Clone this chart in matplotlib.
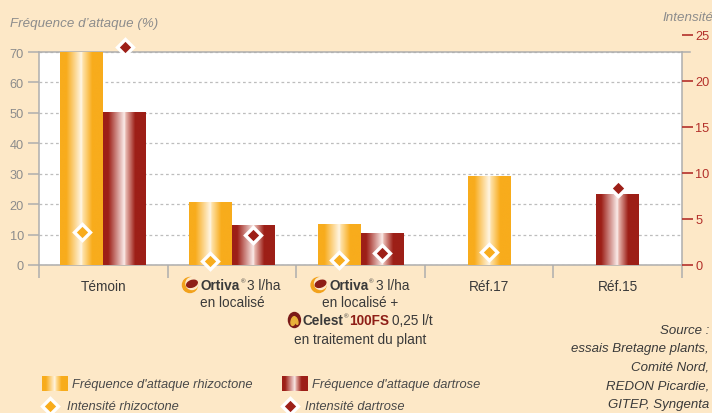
import matplotlib
matplotlib.use("Agg")
import matplotlib.pyplot as plt
import numpy as np
from matplotlib.colors import LinearSegmentedColormap
from matplotlib.patches import Circle, Ellipse
from matplotlib.lines import Line2D
from matplotlib.transforms import IdentityTransform

plt.rcParams['font.family'] = ['Liberation Sans Narrow', 'Liberation Sans', 'DejaVu Sans']

# --- données ---
categories = ["Témoin", "Ortiva 3 l/ha en localisé",
              "Ortiva 3 l/ha en localisé + Celest 100FS", "Réf.17", "Réf.15"]
freq_rhizo = [70, 20.5, 13.3, 29.2, None]       # % (axe gauche)
freq_dartrose = [50, 13, 10.5, None, 23.3]      # % (axe gauche)
int_rhizo = [3.6, 0.4, 0.5, 1.4, None]          # axe droit
int_dartrose = [23.7, 3.3, 1.3, None, 8.4]      # axe droit
left_ticks = [0, 10, 20, 30, 40, 50, 60, 70]
right_ticks = [0, 5, 10, 15, 20, 25]
source_lines = ["Source :", "essais Bretagne plants,", "Comité Nord,",
                "REDON Picardie,", "GITEP, Syngenta"]

W, H = 712, 414
BG = "#FDE8C7"
ORANGE = "#F8AC1C"
RED = "#9D1F17"
GREY = "#8C8C8C"
AXGREY = "#AEAEAE"
RTICK = "#B3302A"
DARK = "#3A3A3A"
MS, MEW = 8.3, 2.4

cmap_rh = LinearSegmentedColormap.from_list("rh", [
    (0.0, ORANGE), (0.15, ORANGE), (0.50, "#FFF6E6"), (0.53, "#FFE3AA"),
    (0.75, ORANGE), (1.0, ORANGE)])
cmap_da = LinearSegmentedColormap.from_list("da", [
    (0.0, RED), (0.12, RED), (0.50, "#FBEDEA"), (0.53, "#E8B8B0"),
    (0.75, RED), (1.0, RED)])
grad = np.linspace(0, 1, 256).reshape(1, -1)


def fx(x):
    return x / W


def fy(y):
    return 1 - y / H


fig = plt.figure(figsize=(W / 100, H / 100), dpi=100, facecolor=BG)
ax = fig.add_axes([fx(39), fy(266), fx(682) - fx(39), fy(53) - fy(266)])
ax.set_facecolor("white")
# axe droit : plus haut que la zone de tracé (graduation 25 au-dessus)
ax2 = fig.add_axes([fx(39), fy(266), fx(682) - fx(39), fy(36) - fy(266)])
ax2.patch.set_visible(False)

bw = 0.333
xs = np.arange(len(categories))
for i in xs:
    both = freq_rhizo[i] is not None and freq_dartrose[i] is not None
    off = bw / 2 if both else 0
    for vals, ivals, col, cm, sgn in [(freq_rhizo, int_rhizo, ORANGE, cmap_rh, -1),
                                       (freq_dartrose, int_dartrose, RED, cmap_da, 1)]:
        if vals[i] is None:
            continue
        xc = i + sgn * off
        b = ax.bar(xc, vals[i], width=bw, color=col, zorder=2)[0]
        ax.imshow(grad, cmap=cm, aspect="auto", interpolation="bilinear", zorder=3,
                  extent=[b.get_x(), b.get_x() + b.get_width(), 0, b.get_height()])
        ax2.plot([xc], [ivals[i]], "D", ms=MS, mfc=col, mec="white", mew=MEW,
                 clip_on=False, zorder=5)

ax.set_xlim(-0.5, len(categories) - 0.5)
ax.set_ylim(0, 70)
ax2.set_xlim(ax.get_xlim())
ax2.set_ylim(0, 25)

# axe gauche
ax.set_yticks(left_ticks)
ax.tick_params(axis="y", length=7.9, width=1.1, color=AXGREY, labelcolor=GREY,
               labelsize=9.2, pad=3)
ax.yaxis.grid(True, color="#BDBDBD", linestyle=(0, (2.2, 2.2)), linewidth=0.9, zorder=1)
ax.set_axisbelow(True)
for s in ax.spines.values():
    s.set_color(AXGREY)
    s.set_linewidth(1.1)
ax.add_line(Line2D([1, 1 + 8 / 643], [1, 1], transform=ax.transAxes, clip_on=False,
                   color=AXGREY, linewidth=1.1))

# axe x : séparateurs de catégories
ax.set_xticks(xs)
ax.set_xticklabels(["Témoin", "", "", "Réf.17", "Réf.15"])
ax.set_xticks(np.arange(-0.5, len(categories)), minor=True)
ax.tick_params(axis="x", which="major", length=0, pad=10, labelsize=9.8, labelcolor=DARK)
ax.tick_params(axis="x", which="minor", length=9.4, width=1.1, color=AXGREY)

# axe droit
for s in ax2.spines.values():
    s.set_visible(False)
ax2.set_xticks([])
ax2.yaxis.tick_right()
ax2.set_yticks(right_ticks)
ax2.tick_params(axis="y", length=7.9, width=1.2, color=RTICK, labelcolor=RTICK,
                labelsize=9.2, pad=1.5)

# titres des axes
fig.text(fx(10), fy(24), "Fréquence d’attaque (%)", style="italic", color=GREY,
         fontsize=9.6, va="center", ha="left")
fig.text(fx(662), fy(18), "Intensité", style="italic", color=GREY,
         fontsize=9.6, va="center", ha="left")

renderer = fig.canvas.get_renderer()
T = IdentityTransform()


def logo_ortiva(x, y):
    yy = H - y
    fig.add_artist(Circle((x + 7, yy), 7.5, transform=T, color="#F2A21B"))
    fig.add_artist(Circle((x + 9, yy + 1.5), 6, transform=T, color=BG))
    fig.add_artist(Ellipse((x + 9, yy + 1.2), 11, 6.5, angle=20, transform=T, color="#8E1E17"))


def logo_celest(x, y):
    yy = H - y
    fig.add_artist(Ellipse((x + 6.5, yy), 12, 15, transform=T, color="#7A1A18"))
    fig.add_artist(Ellipse((x + 5.5, yy - 1), 4.5, 9, angle=-15, transform=T, color="#E8B13A"))
    fig.add_artist(Ellipse((x + 8.5, yy - 1), 2.5, 7, angle=15, transform=T, color="#E8B13A"))


def piece_line(cx, cy, pieces):
    objs = []
    total = 0
    for p in pieces:
        if p[0] == "logo":
            objs.append(p)
            total += p[2]
            continue
        s, kw, gap, dy = p
        t = fig.text(0, 0, s, transform=T, ha="left", va="center", **kw)
        w = t.get_window_extent(renderer).width
        objs.append((t, w, gap, dy))
        total += w + gap
    x = cx - total / 2
    for o in objs:
        if o[0] == "logo":
            o[1](x, cy)
            x += o[2]
            continue
        t, w, gap, dy = o
        t.set_position((x, H - cy + dy))
        x += w + gap


FS = 9.8
reg = dict(fontsize=FS, color=DARK)
bold = dict(fontsize=FS, color=DARK, fontweight="bold")
sup = dict(fontsize=4.5, color=DARK)
redb = dict(fontsize=FS, color="#8E1E17", fontweight="bold")


def xpix(i):
    return ax.transData.transform((i, 0))[0]


ortiva_line = [("logo", logo_ortiva, 18), ("Ortiva", bold, 0.5, 0),
               ("®", sup, 2, 4), ("3 l/ha", reg, 0, 0)]
piece_line(xpix(1), 286, ortiva_line)
piece_line(xpix(1), 303, [("en localisé", reg, 0, 0)])
piece_line(xpix(2), 286, ortiva_line)
piece_line(xpix(2), 303, [("en localisé +", reg, 0, 0)])
piece_line(xpix(2), 321, [("logo", logo_celest, 15), ("Celest", bold, 0.5, 0),
                          ("®", sup, 0.5, 4), ("100FS", redb, 3, 0),
                          ("0,25 l/t", reg, 0, 0)])
piece_line(xpix(2), 340, [("en traitement du plant", reg, 0, 0)])

# source
for k, s in enumerate(source_lines):
    fig.text(fx(709), fy(331 + 18.5 * k), s, style="italic", color=DARK,
             fontsize=9.5, ha="right", va="center")

# légende
for (x0, cm, lbl, xt) in [(42, cmap_rh, "Fréquence d'attaque rhizoctone", 72),
                          (282, cmap_da, "Fréquence d'attaque dartrose", 312)]:
    sw = fig.add_axes([fx(x0), fy(392), 26 / W, 15 / H])
    sw.imshow(grad, cmap=cm, aspect="auto", interpolation="bilinear")
    sw.axis("off")
    fig.text(fx(xt), fy(385), lbl, style="italic", color="#4A4A4A", fontsize=9.3,
             ha="left", va="center")
for (x0, col, lbl, xt) in [(50, ORANGE, "Intensité rhizoctone", 67),
                           (290, RED, "Intensité dartrose", 305)]:
    fig.add_artist(Line2D([fx(x0)], [fy(407)], transform=fig.transFigure, marker="D",
                          ms=MS, mfc=col, mec="white", mew=MEW, linestyle="none"))
    fig.text(fx(xt), fy(407), lbl, style="italic", color="#4A4A4A", fontsize=9.3,
             ha="left", va="center")

fig.savefig("out.png", dpi=100, facecolor=BG)
